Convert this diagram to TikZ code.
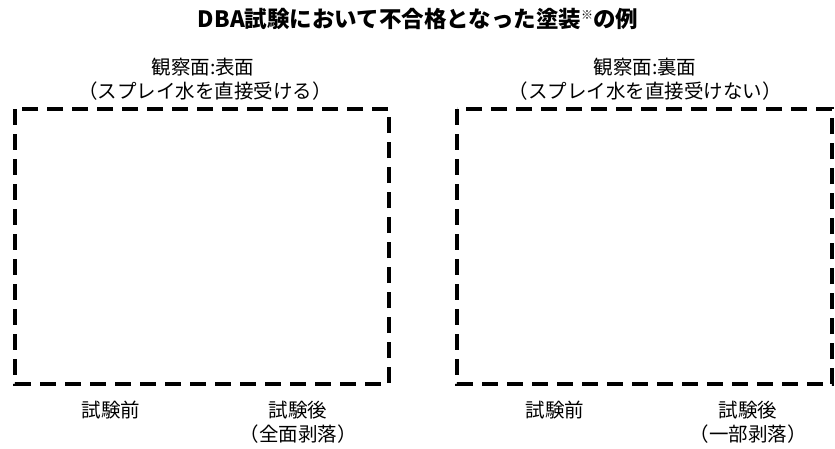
\documentclass[tikz,border=0pt]{standalone}
\usepackage{fontspec}
\setmainfont{Noto Sans CJK JP}
\begin{document}
\begin{tikzpicture}[x=1pt,y=-1pt,
  frame/.style={draw=black,line width=3.5pt,dash pattern=on 16pt off 9pt},
  lbl/.style={font=\fontsize{19.5}{22}\selectfont,align=center,inner sep=0pt}]
\useasboundingbox[fill=white] (0,0) rectangle (835,448);
\node[font=\fontsize{22.5}{26}\selectfont\bfseries,inner sep=0pt] (title) at (418,19) {DBA試験において不合格となった塗装\raisebox{0.35em}{\fontsize{12}{12}\selectfont ※}の例};
\node[lbl] (l1) at (203,67) {観察面:表面};
\node[lbl] (l2) at (205,91) {（スプレイ水を直接受ける）};
\node[lbl] (r1) at (645,67) {観察面:裏面};
\node[lbl] (r2) at (645,91) {（スプレイ水を直接受けない）};
\draw[frame] (15,109) rectangle (389,384);
\draw[frame] (457,109) rectangle (832,384);
\node[lbl] (lb1) at (111,410) {試験前};
\node[lbl] (lb2) at (298,410) {試験後};
\node[lbl] (lb3) at (298,434) {（全面剥落）};
\node[lbl] (rb1) at (555,410) {試験前};
\node[lbl] (rb2) at (748,410) {試験後};
\node[lbl] (rb3) at (748,434) {（一部剥落）};
\end{tikzpicture}
\end{document}
